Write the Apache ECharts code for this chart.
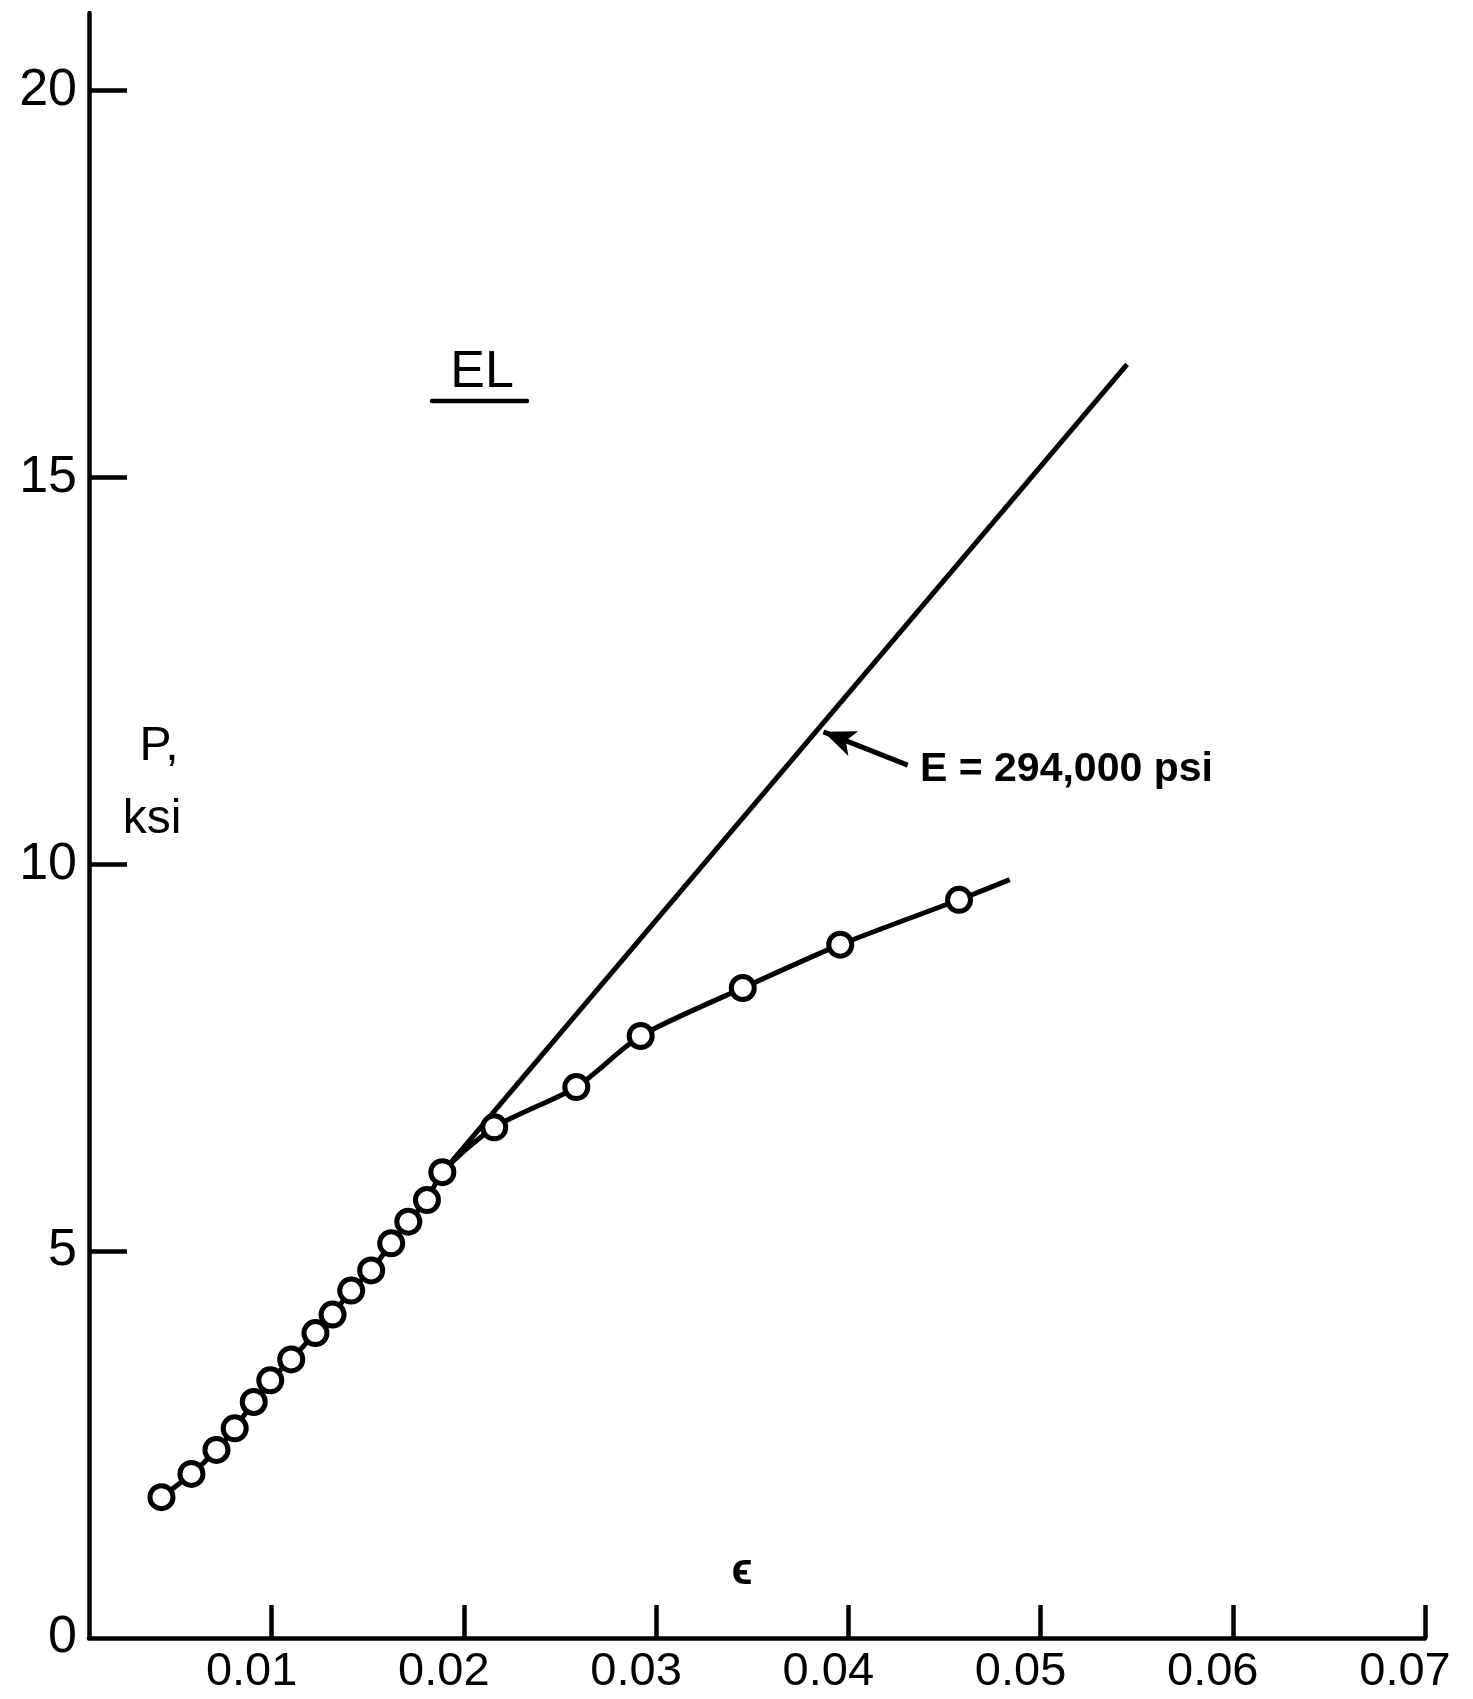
<!DOCTYPE html>
<html>
<head>
<meta charset="UTF-8">
<script src="https://cdn.jsdelivr.net/npm/echarts@6/dist/echarts.min.js"></script>
<style>
  html, body { margin: 0; padding: 0; background: #fff; }
  #chart { width: 1473px; height: 1699px; }
</style>
</head>
<body>
<div id="chart"></div>
<script>
// test points: strain (in./in.) and stress P (ksi)
const strain = [0.00427, 0.00583, 0.00713, 0.00808, 0.00907, 0.00993, 0.01102, 0.01228,
  0.01317, 0.01414, 0.01518, 0.01622, 0.01711, 0.01808, 0.01888, 0.02158,
  0.02585, 0.02920, 0.03451, 0.03958, 0.04576];
const stress = [1.82, 2.12, 2.43, 2.71, 3.05, 3.33, 3.60, 3.94,
  4.18, 4.49, 4.75, 5.10, 5.38, 5.66, 6.02, 6.60,
  7.12, 7.78, 8.40, 8.96, 9.54];
// faired curve runs a little past the last point
const curveEnd = [0.0484, 9.80];
// straight line for E = 294,000 psi
const modulusLine = [[0.0189, 6.02], [0.0545, 16.46]];
// arrow pointing at the modulus line
const arrowTail = [0.04309, 11.28];
const arrowTip = [0.03871, 11.71];

const xTicks = [0.01, 0.02, 0.03, 0.04, 0.05, 0.06, 0.07];
const yTicks = [5, 10, 15, 20];
const yLabels = [0, 5, 10, 15, 20];

const FONT = "'Liberation Sans', Arial, sans-serif";
const chart = echarts.init(document.getElementById('chart'));

const points = strain.map((x, i) => [x, stress[i]]);

chart.setOption({
  animation: false,
  backgroundColor: '#fff',
  grid: { left: 89, right: 48, top: 13, bottom: 61, outerBoundsMode: 'none' },
  xAxis: {
    type: 'value',
    // the drawn y axis sits just right of strain = 0
    min: 0.0005,
    max: 0.07,
    splitLine: { show: false },
    axisLine: { show: true, onZero: false, lineStyle: { color: '#000', width: 4.5 } },
    axisTick: { show: true, inside: true, length: 33, customValues: xTicks,
      lineStyle: { color: '#000', width: 4.5 } },
    axisLabel: { customValues: xTicks, formatter: v => v.toFixed(2), color: '#000',
      fontFamily: FONT, fontSize: 47, margin: 11, padding: [0, 40, 0, 0] }
  },
  yAxis: {
    type: 'value',
    min: 0,
    max: 21,
    splitLine: { show: false },
    axisLine: { show: true, onZero: false, lineStyle: { color: '#000', width: 4.5 } },
    axisTick: { show: true, inside: true, length: 38, customValues: yTicks,
      lineStyle: { color: '#000', width: 4.5 } },
    axisLabel: { customValues: yLabels, formatter: v => String(v), color: '#000',
      fontFamily: FONT, fontSize: 52, margin: 12 }
  },
  series: [
    {
      name: 'modulus',
      type: 'line',
      data: modulusLine,
      showSymbol: false,
      lineStyle: { color: '#000', width: 5 },
      z: 2,
      markLine: {
        silent: true,
        symbol: ['none', 'arrow'],
        symbolSize: [20, 32],
        label: { show: false },
        lineStyle: { color: '#000', width: 5, type: 'solid' },
        data: [[{ coord: arrowTail }, { coord: arrowTip }]]
      }
    },
    {
      name: 'curve',
      type: 'line',
      data: points.concat([curveEnd]),
      smooth: 0.25,
      showSymbol: false,
      lineStyle: { color: '#000', width: 5 },
      z: 3
    },
    {
      name: 'tests',
      type: 'scatter',
      data: points,
      symbol: 'circle',
      symbolSize: 23,
      itemStyle: { color: '#fff', borderColor: '#000', borderWidth: 5, opacity: 1 },
      z: 5
    }
  ],
  graphic: [
    { type: 'text', x: 482, y: 373, style: { text: 'EL', font: '52px ' + FONT,
      fill: '#000', textAlign: 'center', textVerticalAlign: 'middle' } },
    { type: 'line', shape: { x1: 432, y1: 401, x2: 527, y2: 401 },
      style: { stroke: '#000', lineWidth: 4.5, lineCap: 'round' } },
    { type: 'text', x: 159, y: 747, style: { text: 'P,', font: '48px ' + FONT,
      fill: '#000', textAlign: 'center', textVerticalAlign: 'middle' } },
    { type: 'text', x: 152, y: 820, style: { text: 'ksi', font: '48px ' + FONT,
      fill: '#000', textAlign: 'center', textVerticalAlign: 'middle' } },
    { type: 'text', x: 920, y: 770, style: { text: 'E = 294,000 psi', font: 'bold 41px ' + FONT,
      fill: '#000', textAlign: 'left', textVerticalAlign: 'middle' } },
    { type: 'text', x: 742, y: 1572, style: { text: 'ϵ', font: 'bold 44px ' + FONT,
      fill: '#000', textAlign: 'center', textVerticalAlign: 'middle' } }
  ]
});
</script>
</body>
</html>
